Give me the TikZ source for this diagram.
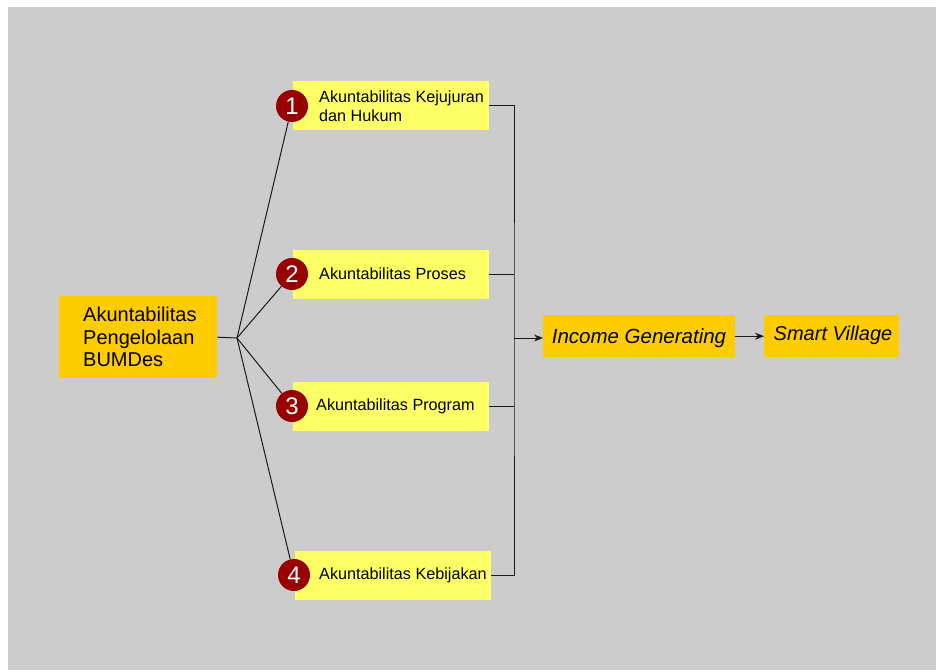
\documentclass[tikz,border=0pt]{standalone}
\usepackage{fontspec}
\setmainfont{Liberation Sans}
\usetikzlibrary{arrows.meta}
\definecolor{bg}{HTML}{CCCCCC}
\definecolor{gold}{HTML}{FFCC00}
\definecolor{lyel}{HTML}{FFFF66}
\definecolor{dred}{HTML}{990000}
\definecolor{ln}{HTML}{1A1A1A}
\tikzset{
  goldbox/.style={fill=gold, draw=none, inner sep=0pt},
  yelbox/.style={fill=lyel, draw=none, inner sep=0pt, minimum width=196pt, minimum height=49pt},
  lbl/.style={inner sep=0pt, align=left, font=\fontsize{16.2}{19}\selectfont, text=black},
  numc/.style={circle, fill=dred, draw=none, minimum size=32pt, inner sep=0pt, text=white, font=\fontsize{24}{24}\selectfont},
  conn/.style={draw=ln, line width=1pt},
  arr/.style={conn, -{Stealth[length=9pt,width=7pt]}}
}
\begin{document}
\begin{tikzpicture}[x=1pt,y=-1pt]
\useasboundingbox (0,0) rectangle (936,670);
\fill[white] (0,0) rectangle (936,670);
\fill[bg] (8,7) rectangle (936,670);

% left box
\node[goldbox, minimum width=158pt, minimum height=82pt, anchor=north west] (lb) at (59,296) {};
\node[inner sep=0pt, align=left, anchor=west, font=\fontsize{20}{22.5}\selectfont] (lbt) at (83,337) {Akuntabilitas\\Pengelolaan\\BUMDes};

% yellow boxes
\node[yelbox, anchor=north west] (b1) at (293,81) {};
\node[yelbox, anchor=north west] (b2) at (293,250) {};
\node[yelbox, anchor=north west] (b3) at (293,382) {};
\node[yelbox, anchor=north west] (b4) at (295,551) {};

\node[lbl, anchor=west] (t1) at (319,106) {Akuntabilitas Kejujuran\\dan Hukum};
\node[lbl, anchor=west] (t2) at (319,274) {Akuntabilitas Proses};
\node[lbl, anchor=west] (t3) at (316,406) {Akuntabilitas Program};
\node[lbl, anchor=west] (t4) at (319,575) {Akuntabilitas Kebijakan};

% result boxes
\node[goldbox, minimum width=192pt, minimum height=42pt, anchor=north west] (ig) at (543,315) {};
\node[inner sep=0pt, font=\fontsize{20.5}{22}\selectfont\itshape] (igt) at (639,338) {Income Generating};
\node[goldbox, minimum width=135pt, minimum height=42pt, anchor=north west] (sv) at (764,315) {};
\node[inner sep=0pt, font=\fontsize{20}{22}\selectfont\itshape] (svt) at (833,335) {Smart Village};

% junction and connectors
\coordinate (j) at (237,338);
\coordinate (rt) at (514,338);

\node[numc] (c1) at (292,106) {1};
\node[numc] (c2) at (292,274) {2};
\node[numc] (c3) at (292,406) {3};
\node[numc] (c4) at (294,575) {4};

\draw[conn] (lb.east) -- (j);
\draw[conn] (j) -- (c1);
\draw[conn] (j) -- (c2);
\draw[conn] (j) -- (c3);
\draw[conn] (j) -- (c4);

\draw[conn] (b1.east) -| (rt) |- (b4.east);
\draw[conn] (b2.east) -- (b2.east -| rt);
\draw[conn] (b3.east) -- (b3.east -| rt);
\draw[arr] (rt) -- (rt -| ig.west);
\draw[arr] (ig.east) -- (ig.east -| sv.west);
\end{tikzpicture}
\end{document}
